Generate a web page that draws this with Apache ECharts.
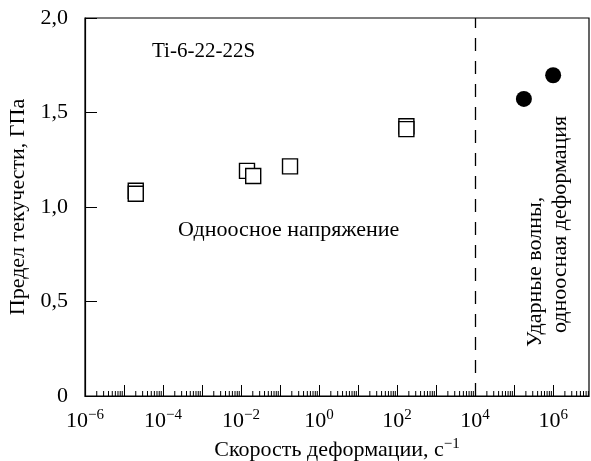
<!DOCTYPE html>
<html>
<head>
<meta charset="utf-8">
<script src="https://cdn.jsdelivr.net/npm/echarts@6/dist/echarts.min.js"></script>
<style>
html,body{margin:0;padding:0;background:#fff;}
#c{width:591px;height:461px;}
</style>
</head>
<body>
<div id="c"></div>
<script>
// Uniaxial stress data (open squares): strain rate, s^-1 / yield stress, GPa
var uniaxialRate = [2e-5, 2e-5, 0.0142, 0.0205, 0.18, 173, 173];
var uniaxialStress = [1.086, 1.070, 1.191, 1.164, 1.215, 1.427, 1.412];
// Shock wave data (filled circles)
var shockRate = [1.78e5, 1.0e6];
var shockStress = [1.572, 1.697];
// Boundary (dashed line)
var boundaryRate = [1e4];
// Tick labels
var yTickLabels = ['0', '0,5', '1,0', '1,5', '2,0'];
var xLabelExponents = [-6, -4, -2, 0, 2, 4, 6];
var xMinorMultipliers = [2, 3, 4, 5, 6, 7, 8, 9];
var xDecades = [-6, -5, -4, -3, -2, -1, 0, 1, 2, 3, 4, 5, 6];

var FONT = '"Liberation Serif", "DejaVu Serif", serif';

var chart = echarts.init(document.getElementById('c'), null, {renderer: 'canvas'});

var minorTicks = [];
xDecades.forEach(function (d) {
  xMinorMultipliers.forEach(function (m) {
    minorTicks.push([m * Math.pow(10, d), 0]);
  });
});

var option = {
  backgroundColor: '#fff',
  animation: false,
  grid: {left: 85, right: 2, top: 18, bottom: 65, show: true, borderColor: '#000', borderWidth: 1.2,
         backgroundColor: 'transparent', containLabel: false, outerBoundsMode: 'none'},
  xAxis: {
    type: 'log', logBase: 10, min: 1e-6, max: 8.3e6, interval: 1,
    name: '{a|Скорость деформации, с}{s|−1}',
    nameLocation: 'middle', nameGap: 39,
    nameTextStyle: {
      rich: {
        a: {fontFamily: FONT, fontSize: 22, color: '#000', lineHeight: 26},
        s: {fontFamily: FONT, fontSize: 15, color: '#000', verticalAlign: 'top', lineHeight: 15}
      }
    },
    axisLine: {show: true, lineStyle: {color: '#000', width: 1.2}},
    axisTick: {show: true, inside: true, length: 11, interval: 0, lineStyle: {color: '#000', width: 1}},
    splitLine: {show: false},
    axisLabel: {
      margin: 12, interval: 0, hideOverlap: false,
      formatter: function (v) {
        var e = Math.log(v) / Math.LN10;
        var r = Math.round(e);
        if (Math.abs(e - r) > 1e-6 || xLabelExponents.indexOf(r) < 0) return '';
        var sup = r < 0 ? '−' + Math.abs(r) : String(r);
        return '{b|10}{s|' + sup + '}';
      },
      rich: {
        b: {fontFamily: FONT, fontSize: 22, color: '#000', lineHeight: 26},
        s: {fontFamily: FONT, fontSize: 15, color: '#000', verticalAlign: 'top', lineHeight: 15}
      },
      showMinLabel: true, showMaxLabel: false
    }
  },
  yAxis: {
    type: 'value', min: 0, max: 2, interval: 0.5,
    name: 'Предел текучести, ГПа',
    nameLocation: 'middle', nameGap: 51, nameRotate: 90,
    nameTextStyle: {fontFamily: FONT, fontSize: 22, color: '#000'},
    axisLine: {show: true, lineStyle: {color: '#000', width: 1.2}},
    axisTick: {show: true, inside: true, length: 12, lineStyle: {color: '#000', width: 1}},
    splitLine: {show: false},
    axisLabel: {
      margin: 17, fontFamily: FONT, fontSize: 22, color: '#000',
      formatter: function (v, i) { return yTickLabels[i]; }
    }
  },
  series: [
    {
      type: 'custom',
      silent: true,
      clip: true,
      renderItem: function (params, api) {
        var p = api.coord([api.value(0), 0]);
        return {
          type: 'line',
          shape: {x1: p[0], y1: p[1], x2: p[0], y2: p[1] - 5},
          style: {stroke: '#000', lineWidth: 1}
        };
      },
      data: minorTicks,
      z: 1
    },
    {
      type: 'scatter',
      data: uniaxialRate.map(function (x, i) { return [x, uniaxialStress[i]]; }),
      symbol: 'rect', symbolSize: 15,
      itemStyle: {color: '#fff', borderColor: '#000', borderWidth: 1.4, opacity: 1},
      markLine: {
        silent: true, symbol: ['none', 'none'], label: {show: false},
        lineStyle: {color: '#000', type: [13, 10], width: 1.3},
        data: boundaryRate.map(function (x) { return {xAxis: x}; })
      },
      z: 3
    },
    {
      type: 'scatter',
      data: shockRate.map(function (x, i) { return [x, shockStress[i]]; }),
      symbol: 'circle', symbolSize: 16,
      itemStyle: {color: '#000', opacity: 1},
      z: 3
    }
  ],
  graphic: [
    {type: 'text', left: 152, top: 41, style: {text: 'Ti-6-22-22S', font: '21px ' + FONT, fill: '#000'}},
    {type: 'text', left: 178, top: 219, style: {text: 'Одноосное напряжение', font: '22px ' + FONT, fill: '#000'}},
    {type: 'text', x: 535, y: 347, rotation: Math.PI / 2,
     style: {text: 'Ударные волны,', font: '22px ' + FONT, fill: '#000', align: 'left', verticalAlign: 'middle'}},
    {type: 'text', x: 560, y: 333, rotation: Math.PI / 2,
     style: {text: 'одноосная деформация', font: '22px ' + FONT, fill: '#000', align: 'left', verticalAlign: 'middle'}}
  ]
};
chart.setOption(option);
</script>
</body>
</html>
